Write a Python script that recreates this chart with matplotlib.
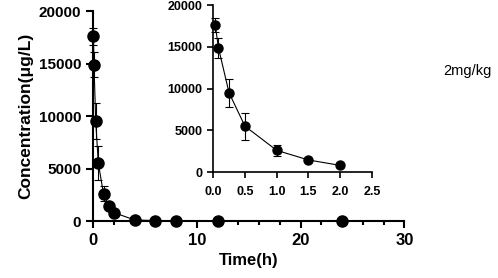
import matplotlib
matplotlib.use("Agg")
import matplotlib.pyplot as plt
from matplotlib.ticker import MultipleLocator, FormatStrFormatter

plt.rcParams["font.family"] = ["Liberation Sans", "DejaVu Sans"]

time_h = [0.033, 0.083, 0.25, 0.5, 1.0, 1.5, 2.0, 4.0, 6.0, 8.0, 12.0, 24.0]
conc = [17600, 14900, 9500, 5500, 2600, 1450, 800, 100, 40, 25, 15, 10]
conc_sd = [800, 1200, 1700, 1600, 700, 150, 120, 30, 10, 5, 5, 5]
dose_label = "2mg/kg"

inset_n = 7  # points up to 2 h

fig = plt.figure(figsize=(4.98, 2.78), dpi=100)
ax = fig.add_axes([0.187, 0.205, 0.625, 0.755])
ax.errorbar(time_h, conc, yerr=conc_sd, color="black", marker="o", ms=8,
            lw=0.8, elinewidth=0.8, capsize=3, capthick=0.8, clip_on=False)
ax.set_xlim(0, 30)
ax.set_ylim(0, 20000)
ax.xaxis.set_major_locator(MultipleLocator(10))
ax.xaxis.set_minor_locator(MultipleLocator(2))
ax.yaxis.set_major_locator(MultipleLocator(5000))
for s in ["top", "right"]:
    ax.spines[s].set_visible(False)
for s in ["left", "bottom"]:
    ax.spines[s].set_linewidth(1.5)
ax.tick_params(which="major", width=1.5, length=5, labelsize=11)
ax.tick_params(axis="x", which="major", labelsize=12)
ax.tick_params(which="minor", width=1.5, length=3)
for lab in ax.get_xticklabels() + ax.get_yticklabels():
    lab.set_fontweight("bold")
ax.set_xlabel("Time(h)", fontsize=12, fontweight="bold")
ax.set_ylabel("Concentration(μg/L)", fontsize=12.5, fontweight="bold")

ins = fig.add_axes([0.428, 0.381, 0.319, 0.601])
ins.errorbar(time_h[:inset_n], conc[:inset_n], yerr=conc_sd[:inset_n],
             color="black", marker="o", ms=6.5, lw=0.8, elinewidth=0.8,
             capsize=3, capthick=0.8, clip_on=False)
ins.set_xlim(0, 2.5)
ins.set_ylim(0, 20000)
ins.xaxis.set_major_locator(MultipleLocator(0.5))
ins.yaxis.set_major_locator(MultipleLocator(5000))
ins.xaxis.set_major_formatter(FormatStrFormatter("%.1f"))
for s in ["top", "right"]:
    ins.spines[s].set_visible(False)
for s in ["left", "bottom"]:
    ins.spines[s].set_linewidth(1.2)
ins.tick_params(width=1.2, length=4, labelsize=9)
ins.tick_params(axis="x", pad=6)
for lab in ins.get_xticklabels() + ins.get_yticklabels():
    lab.set_fontweight("bold")

fig.text(0.89, 0.745, dose_label, fontsize=10.5, va="center")

fig.savefig("out.png", dpi=100)
